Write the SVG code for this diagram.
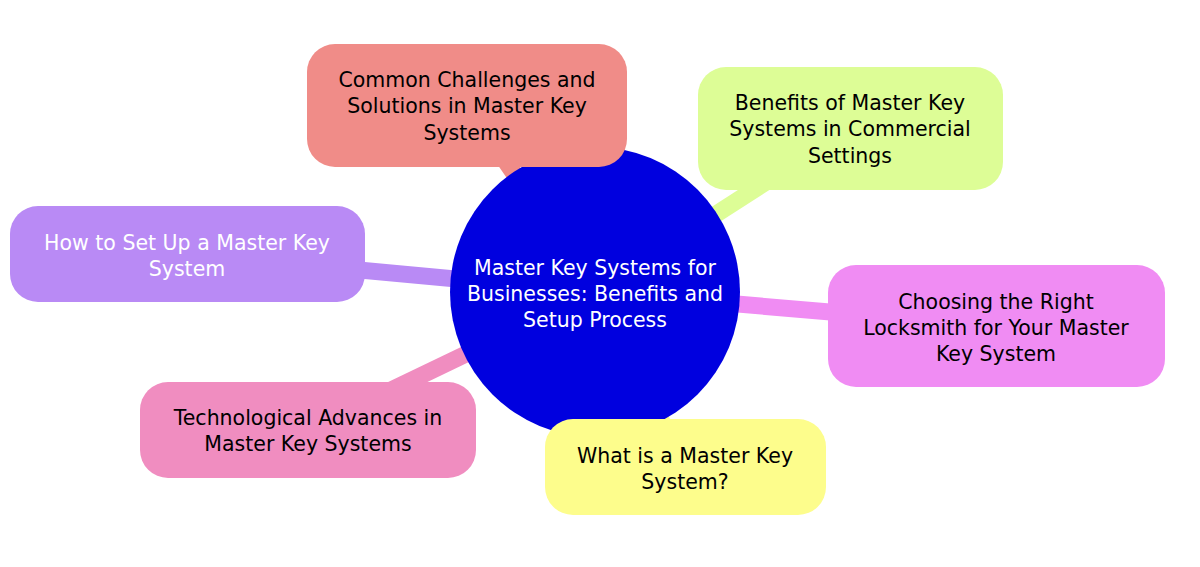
<svg xmlns="http://www.w3.org/2000/svg" width="1200" height="567" viewBox="0 0 1200 567">
<style>
text{font-family:"DejaVu Sans","Liberation Sans",sans-serif;font-size:20.5px;text-anchor:middle;fill:#000}
.w{fill:#fff}
.edge{stroke-width:17;stroke-linecap:butt;fill:none}
</style>
<rect width="1200" height="567" fill="#fff"/>
<g id="connectors">
<line class="edge" x1="595" y1="292" x2="467" y2="105" stroke="#f08c88"/>
<line class="edge" x1="595" y1="292" x2="850" y2="128" stroke="#ddfd96"/>
<line class="edge" x1="595" y1="292" x2="187" y2="254" stroke="#b98af5"/>
<line class="edge" x1="595" y1="292" x2="996" y2="326" stroke="#f08cf3"/>
<line class="edge" x1="595" y1="292" x2="308" y2="430" stroke="#f08dc0"/>
<line class="edge" x1="595" y1="292" x2="685" y2="467" stroke="#fdfd8c"/>
</g>
<g id="center">
<circle cx="595" cy="292" r="145" fill="#0000df"/>
<text class="w" x="595" y="275">Master Key Systems for</text>
<text class="w" x="595" y="301">Businesses: Benefits and</text>
<text class="w" x="595" y="327">Setup Process</text>
</g>
<g id="n1">
<rect x="307" y="44" width="320" height="123" rx="28" fill="#f08c88"/>
<text x="467" y="87">Common Challenges and</text>
<text x="467" y="113">Solutions in Master Key</text>
<text x="467" y="140">Systems</text>
</g>
<g id="n2">
<rect x="698" y="67" width="305" height="123" rx="28" fill="#ddfd96"/>
<text x="850" y="110">Benefits of Master Key</text>
<text x="850" y="136">Systems in Commercial</text>
<text x="850" y="163">Settings</text>
</g>
<g id="n3">
<rect x="10" y="206" width="355" height="96" rx="28" fill="#b98af5"/>
<text class="w" x="187" y="250">How to Set Up a Master Key</text>
<text class="w" x="187" y="276">System</text>
</g>
<g id="n4">
<rect x="828" y="265" width="337" height="122" rx="28" fill="#f08cf3"/>
<text x="996" y="309">Choosing the Right</text>
<text x="996" y="335">Locksmith for Your Master</text>
<text x="996" y="361">Key System</text>
</g>
<g id="n5">
<rect x="140" y="382" width="336" height="96" rx="28" fill="#f08dc0"/>
<text x="308" y="425">Technological Advances in</text>
<text x="308" y="451">Master Key Systems</text>
</g>
<g id="n6">
<rect x="545" y="419" width="281" height="96" rx="28" fill="#fdfd8c"/>
<text x="685" y="463">What is a Master Key</text>
<text x="685" y="489">System?</text>
</g>
</svg>
